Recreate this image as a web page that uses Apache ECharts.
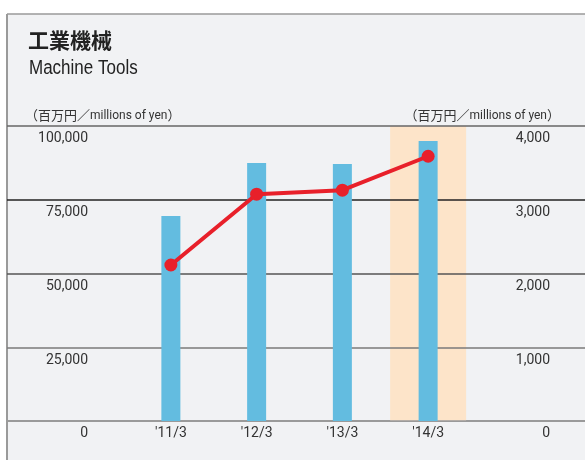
<!DOCTYPE html>
<html>
<head>
<meta charset="utf-8">
<script src="https://cdn.jsdelivr.net/npm/echarts@6/dist/echarts.min.js"></script>
<style>
  html, body { margin: 0; padding: 0; background: #fff; }
  #main { width: 585px; height: 460px; }
</style>
</head>
<body>
<div id="main"></div>
<script>
// 工業機械 / Machine Tools
var categories = ["'11/3", "'12/3", "'13/3", "'14/3"];
var salesValues = [69500, 87500, 87100, 94900];   // 左軸 (百万円)
var profitValues = [2115, 3075, 3130, 3590];      // 右軸 (百万円)
var highlight = [null, null, null, 100000];        // '14/3 の強調帯
var leftTicks = { min: 0, max: 100000, interval: 25000 };
var rightTicks = { min: 0, max: 4000, interval: 1000 };

var FONT = 'Roboto, "Noto Sans CJK JP", sans-serif';
var CJK = '"Noto Sans CJK JP", sans-serif';

// 単位ラベル (和文 + 欧文)
var unitRich = {
    c: { fontSize: 13, fontWeight: 'normal', color: '#333', fontFamily: CJK },
    l: { fontSize: 12, fontWeight: 'normal', color: '#333', fontFamily: FONT }
};
var unitText = '{c|（百万円／}{l|millions of yen}{c|）}';

var chart = echarts.init(document.getElementById('main'));
chart.setOption({
    backgroundColor: '#fff',
    animation: false,
    textStyle: { fontFamily: FONT },
    graphic: [
        { type: 'rect', z: -10, shape: { x: 7, y: 14, width: 578, height: 446 },
          style: { fill: '#f1f2f4' } },
        { type: 'line', z: -9, shape: { x1: 7, y1: 14, x2: 585, y2: 14 },
          style: { stroke: '#9a9a9a', lineWidth: 1.5 } },
        { type: 'line', z: -9, shape: { x1: 7, y1: 14, x2: 7, y2: 460 },
          style: { stroke: '#9a9a9a', lineWidth: 2 } },
        { type: 'text', x: 28, y: 30, z: 5,
          style: { text: '工業機械', font: 'bold 21px "Noto Sans CJK JP"', fill: '#222',
                   textAlign: 'left', textVerticalAlign: 'top' } },
        { type: 'text', x: 29, y: 58, z: 5, scaleX: 0.85,
          style: { text: 'Machine Tools', font: '20px "Liberation Sans"', fill: '#222',
                   textAlign: 'left', textVerticalAlign: 'top' } }
    ],
    title: [
        { text: unitText, left: 20, top: 104, textStyle: { fontWeight: 'normal', rich: unitRich } },
        { text: unitText, right: 20, top: 104, textStyle: { fontWeight: 'normal', rich: unitRich } }
    ],
    grid: [
        { left: 7, right: 0, top: 126, bottom: 39 },
        { left: 128, right: 114, top: 126, bottom: 39 }
    ],
    xAxis: [
        { gridIndex: 0, type: 'value', min: 0, max: 1,
          axisLine: { show: true, lineStyle: { color: '#9a9a9a', width: 2 } },
          axisTick: { show: false }, axisLabel: { show: false }, splitLine: { show: false } },
        { gridIndex: 1, type: 'category', data: categories,
          axisLine: { show: false }, axisTick: { show: false },
          axisLabel: { margin: 6, fontSize: 14, color: '#333', fontFamily: FONT } },
        { gridIndex: 1, type: 'category', data: categories, show: false }
    ],
    yAxis: [
        { gridIndex: 0, type: 'value', position: 'left', z: 1,
          min: leftTicks.min, max: leftTicks.max, interval: leftTicks.interval,
          axisLine: { show: false }, axisTick: { show: false },
          axisLabel: { inside: true, margin: 81, align: 'right', verticalAlign: 'top',
                       padding: [6, 0, 0, 0], fontSize: 14, color: '#333', fontFamily: FONT,
                       formatter: function (v) { return v.toLocaleString('en-US'); } },
          splitLine: { show: true,
                       lineStyle: { width: 1.5, color: ['#9a9a9a', '#7a7a7a', '#555', '#222', '#666'] } } },
        { gridIndex: 0, type: 'value', position: 'right', z: 1,
          min: rightTicks.min, max: rightTicks.max, interval: rightTicks.interval,
          axisLine: { show: false }, axisTick: { show: false },
          axisLabel: { inside: true, margin: 35, align: 'right', verticalAlign: 'top',
                       padding: [6, 0, 0, 0], fontSize: 14, color: '#333', fontFamily: FONT,
                       formatter: function (v) { return v.toLocaleString('en-US'); } },
          splitLine: { show: false } },
        { gridIndex: 1, type: 'value', show: false,
          min: leftTicks.min, max: leftTicks.max, interval: leftTicks.interval, splitLine: { show: false } },
        { gridIndex: 1, type: 'value', show: false,
          min: rightTicks.min, max: rightTicks.max, interval: rightTicks.interval, splitLine: { show: false } }
    ],
    series: [
        { name: 'highlight', type: 'bar', xAxisIndex: 2, yAxisIndex: 2, z: 0, silent: true,
          barWidth: 76, data: highlight, itemStyle: { color: '#fde4c9' } },
        { name: '売上高', type: 'bar', xAxisIndex: 1, yAxisIndex: 2, z: 3,
          barWidth: 19, data: salesValues, itemStyle: { color: '#63bce0' } },
        { name: '営業利益', type: 'line', xAxisIndex: 1, yAxisIndex: 3, z: 4,
          data: profitValues, symbol: 'circle', symbolSize: 13,
          lineStyle: { color: '#e8202a', width: 4 }, itemStyle: { color: '#e8202a' } }
    ]
});
</script>
</body>
</html>
